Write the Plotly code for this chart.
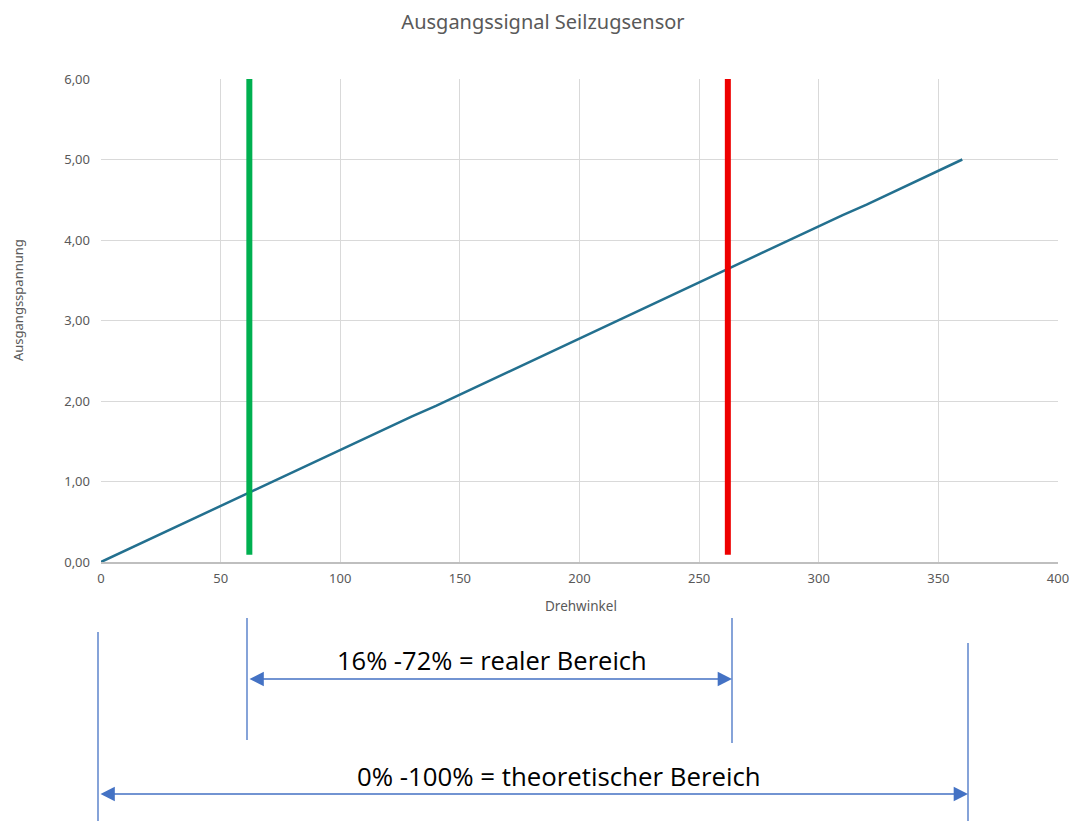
import plotly.graph_objects as go

# Data
drehwinkel = [0, 10, 20, 30, 40, 50, 60, 70, 80, 90, 100, 110, 120, 130, 140, 150, 160, 170, 180,
              190, 200, 210, 220, 230, 240, 250, 260, 270, 280, 290, 300, 310, 320, 330, 340, 350, 360]
spannung = [0.00, 0.14, 0.28, 0.42, 0.56, 0.69, 0.83, 0.97, 1.11, 1.25, 1.39, 1.53, 1.67, 1.81,
            1.94, 2.08, 2.22, 2.36, 2.50, 2.64, 2.78, 2.92, 3.06, 3.19, 3.33, 3.47, 3.61, 3.75,
            3.89, 4.03, 4.17, 4.31, 4.44, 4.58, 4.72, 4.86, 5.00]
grenze_winkel = [62, 262]          # green (start) and red (end) markers
grenze_farben = ["#00B050", "#EE0000"]
grenze_y = [0.09, 6.0]

x_ticks = [0, 50, 100, 150, 200, 250, 300, 350, 400]
y_ticks = [0, 1, 2, 3, 4, 5, 6]

W, H = 1072, 821
L, R, T, B = 101, 14, 79, 259
pw, ph = W - L - R, H - T - B

def px(x):
    return (x - L) / pw

def py(y):
    return (H - B - y) / ph

fig = go.Figure()
fig.add_trace(go.Scatter(x=drehwinkel, y=spannung, mode="lines",
                         line=dict(color="#23708F", width=2.5), showlegend=False))
for gx, gc in zip(grenze_winkel, grenze_farben):
    fig.add_trace(go.Scatter(x=[gx, gx], y=grenze_y, mode="lines",
                             line=dict(color=gc, width=6), showlegend=False, cliponaxis=False))

gray = "#595959"
fig.update_layout(
    width=W, height=H,
    margin=dict(l=L, r=R, t=T, b=B, autoexpand=False),
    paper_bgcolor="white", plot_bgcolor="white",
    separators=",.",
    font=dict(family="Noto Sans", color=gray),
    title=dict(text="Ausgangssignal Seilzugsensor", x=(543) / W, xanchor="center",
               y=1 - 22 / H, yanchor="middle", yref="container",
               font=dict(size=20, color=gray)),
    xaxis=dict(range=[0, 400], tickvals=x_ticks, showgrid=True, gridcolor="#D9D9D9",
               gridwidth=1, zeroline=False, showline=True, linecolor="#BFBFBF", linewidth=1.5,
               tickfont=dict(size=13, color=gray), ticks="", automargin=False,
               ticklabelstandoff=4),
    yaxis=dict(range=[0, 6], tickvals=y_ticks, tickformat=".2f", showgrid=True,
               gridcolor="#D9D9D9", gridwidth=1, zeroline=False, showline=False,
               tickfont=dict(size=13, color=gray), ticks="", ticklabelstandoff=10,
               automargin=False),
)

# Axis titles
fig.add_annotation(text="Drehwinkel", x=px(581), y=py(606), xref="paper", yref="paper",
                   xanchor="center", yanchor="middle",
                   showarrow=False, font=dict(size=13.5, color=gray))
fig.add_annotation(text="Ausgangsspannung", x=px(18), y=py(300), xref="paper", yref="paper",
                   xanchor="center", yanchor="middle",
                   showarrow=False, textangle=-90, font=dict(size=13, color=gray))

blue = "#4472C4"
# Bracket lines below chart
for (lx, y0, y1) in [(247, 618, 740), (732, 618, 743), (98, 632, 821), (968, 643, 821)]:
    fig.add_shape(type="line", xref="paper", yref="paper", x0=px(lx), x1=px(lx),
                  y0=py(y0), y1=py(y1), line=dict(color=blue, width=1.3))

# Double arrows
for (x0, x1, yy) in [(248, 732, 679), (99, 968, 794)]:
    fig.add_annotation(x=px(x1), y=py(yy), xref="paper", yref="paper",
                       ax=-(x1 - x0), ay=0, axref="pixel", ayref="pixel",
                       showarrow=True, arrowside="end+start", arrowhead=2,
                       arrowsize=2.2, arrowwidth=1.3, arrowcolor=blue, text="")

fig.add_annotation(text="16% -72% = realer Bereich", x=px(492), y=py(660), xref="paper",
                   yref="paper", showarrow=False, xanchor="center", yanchor="middle",
                   font=dict(family="Open Sans", size=25.5, color="#000000"))
fig.add_annotation(text="0% -100% = theoretischer Bereich", x=px(559), y=py(776), xref="paper",
                   yref="paper", showarrow=False, xanchor="center", yanchor="middle",
                   font=dict(family="Open Sans", size=25.8, color="#000000"))

fig.write_html("out.html", config={"displayModeBar": False},
               post_script="document.body.style.margin='0';")
